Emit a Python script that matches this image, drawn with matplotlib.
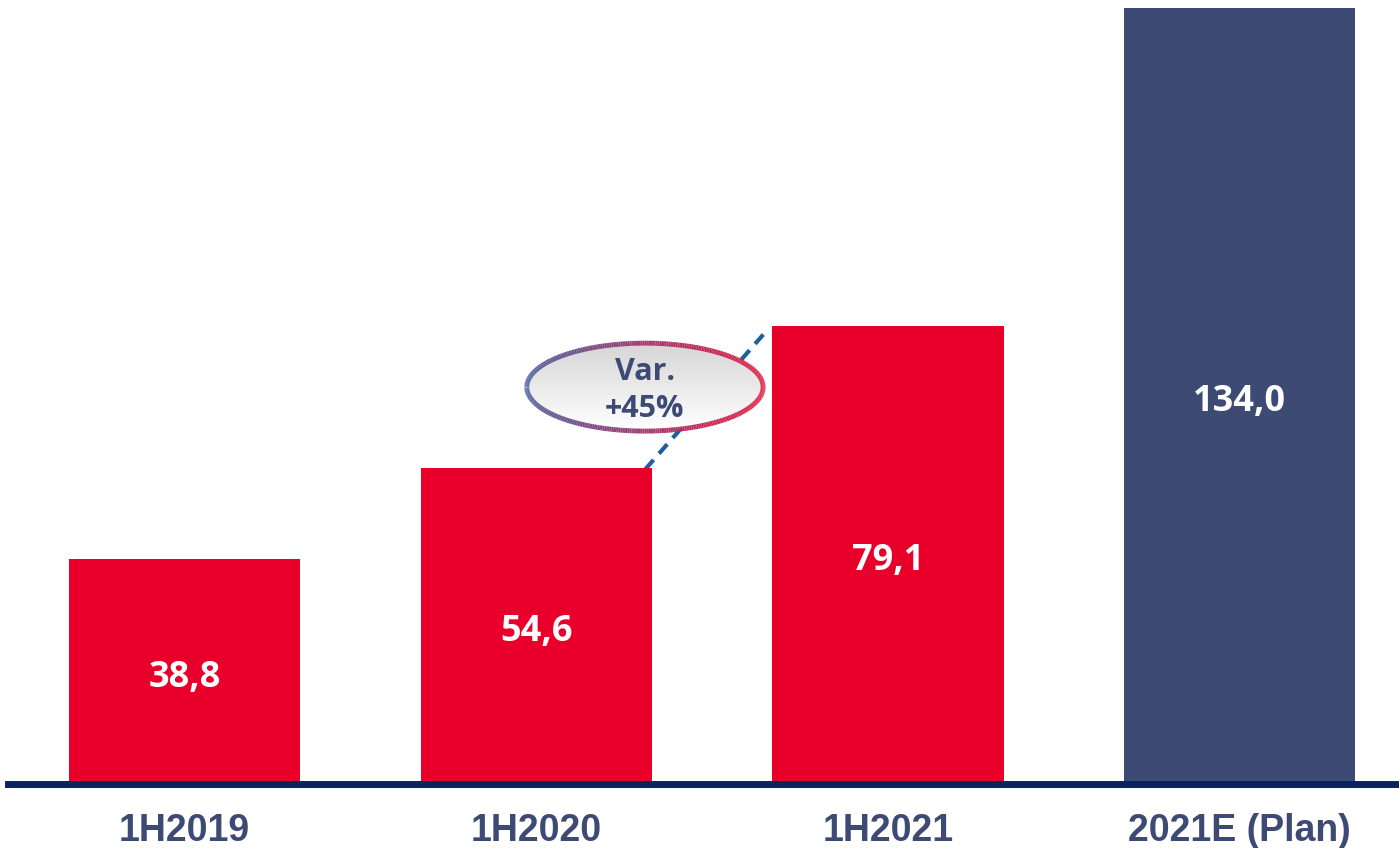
import numpy as np
import matplotlib
matplotlib.use('Agg')
import matplotlib.pyplot as plt
from matplotlib.patches import Ellipse
from matplotlib.collections import LineCollection
from matplotlib.colors import LinearSegmentedColormap

# dati
categorie = ['1H2019', '1H2020', '1H2021', '2021E (Plan)']
valori = [38.8, 54.6, 79.1, 134.0]
etichette = ['38,8', '54,6', '79,1', '134,0']
colori = ['#e8002a', '#e8002a', '#e8002a', '#3c4a74']
variazione = 'Var.\n+45%'

fig = plt.figure(figsize=(13.99, 8.48), dpi=100)
ax = fig.add_axes([8/1399, 1 - 783.5/848, 1 - 8/1399, 783.5/848])

x = np.arange(len(categorie))
ax.bar(x, valori, width=0.657, color=colori, zorder=2)

for xi, v, lab in zip(x, valori, etichette):
    ax.text(xi, v/2 - 1.1, lab, ha='center', va='center', color='white',
            fontsize=26, fontweight='bold', family='Open Sans', zorder=3)

ax.set_xlim(-0.502, 3.453)
ax.set_ylim(0, 135.4)
ax.set_xticks(x)
ax.set_xticklabels(categorie, fontsize=27, fontweight='bold',
                   family='Liberation Sans', color='#3c4a74')
ax.tick_params(axis='x', length=0, pad=21)
ax.set_yticks([])
for s in ['top', 'left', 'right']:
    ax.spines[s].set_visible(False)
ax.spines['bottom'].set_color('#0c2260')
ax.spines['bottom'].set_linewidth(5)
ax.spines['bottom'].set_zorder(4)

# linea tratteggiata tra 1H2020 e 1H2021
ax.plot([1 + 0.31, 2 - 0.35], [valori[1] - 0.3, valori[2] - 1.2],
        color='#1f5f9e', lw=3, ls=(0, (3, 2)), zorder=1)

# ellisse con gradiente
cx, cy, w, h = 1.309, 68.5, 0.672, 15.2
ell = Ellipse((cx, cy), w, h, facecolor='none', edgecolor='none', zorder=5)
ax.add_patch(ell)
grad = np.linspace(0, 1, 100).reshape(-1, 1)
cmap_fill = LinearSegmentedColormap.from_list('f', ['#ffffff', '#d6d6d6'])
img = ax.imshow(grad, extent=(cx - w/2, cx + w/2, cy - h/2, cy + h/2),
                cmap=cmap_fill, aspect='auto', zorder=5, origin='lower')
img.set_clip_path(ell)

t = np.linspace(0, 2*np.pi, 400)
ex = cx + w/2*np.cos(t)
ey = cy + h/2*np.sin(t)
pts = np.array([ex, ey]).T.reshape(-1, 1, 2)
segs = np.concatenate([pts[:-1], pts[1:]], axis=1)
cmap_edge = LinearSegmentedColormap.from_list('e', ['#4a5a9a', '#a23c6e', '#e0163c'])
lc = LineCollection(segs, cmap=cmap_edge, linewidths=3.5, zorder=6)
lc.set_array((ex[:-1] - (cx - w/2)) / w)
ax.add_collection(lc)

ax.text(cx, cy - 0.6, variazione, ha='center', va='center', color='#3c4a74',
        fontsize=22, fontweight='bold', family='Open Sans',
        linespacing=1.3, zorder=7)

ax.set_xlim(-0.502, 3.453)
ax.set_ylim(0, 135.4)

fig.savefig('out.png', dpi=100)
